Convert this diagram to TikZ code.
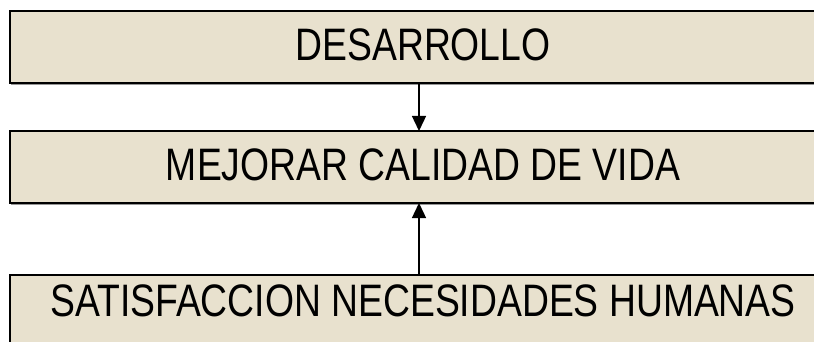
\documentclass[tikz,border=0pt]{standalone}
\usepackage{fontspec}
\setmainfont{Liberation Sans}
\usetikzlibrary{arrows.meta}
\definecolor{boxfill}{RGB}{232,225,206}
\definecolor{shadowgray}{RGB}{150,150,150}
\tikzset{
  x=1pt, y=1pt,
  boxnode/.style={draw=black, line width=2pt, fill=boxfill, minimum width=826pt, minimum height=72pt, inner sep=0pt, outer sep=0pt, anchor=north west},
  boxshadow/.style={fill=shadowgray, draw=none, minimum width=826pt, minimum height=72pt, inner sep=0pt, outer sep=0pt, anchor=north west},
  boxtext/.style={font=\fontsize{37.3}{42}\selectfont, inner sep=0pt, anchor=center, yscale=1.22, transform shape},
  flowarrow/.style={line width=1.4pt, -{Triangle[width=14pt,length=15pt]}}
}
\begin{document}
\begin{tikzpicture}
\useasboundingbox (0,0) rectangle (814,-342);
\clip (0,0) rectangle (814,-342);
\fill[white] (0,0) rectangle (814,-342);
% shadows
\node[boxshadow] at (11,-13) {};
\node[boxshadow] at (11,-133) {};
\node[boxshadow] at (11,-277) {};
% boxes
\node[boxnode] (b1) at (10,-11) {};
\node[boxnode] (b2) at (10,-131) {};
\node[boxnode, line width=1.4pt] (b3) at (10,-275) {};
% texts
\node[boxtext] (t1) at (423,-44.5) {DESARROLLO};
\node[boxtext] (t2) at (423,-164.5) {MEJORAR CALIDAD DE VIDA};
\node[boxtext] (t3) at (423,-301) {SATISFACCION NECESIDADES HUMANAS};
% arrows
\draw[flowarrow] ([xshift=-4pt]b1.south) -- ([xshift=-4pt]b2.north);
\draw[flowarrow] ([xshift=-4pt]b3.north) -- ([xshift=-4pt]b2.south);
\end{tikzpicture}
\end{document}
